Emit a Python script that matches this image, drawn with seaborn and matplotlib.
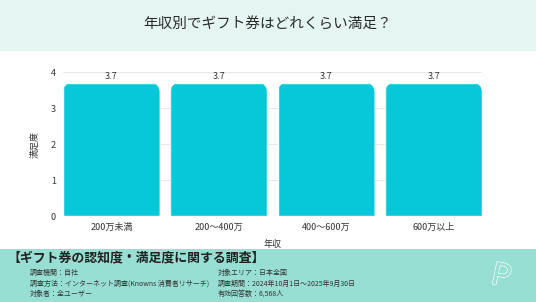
import matplotlib
matplotlib.use("Agg")
import matplotlib.pyplot as plt
import seaborn as sns
import pandas as pd
from matplotlib.patches import FancyBboxPatch, Rectangle
from matplotlib.transforms import IdentityTransform
import matplotlib.patheffects as pe

categories = ["200万未満", "200〜400万", "400〜600万", "600万以上"]
values = [3.7, 3.7, 3.7, 3.7]
value_labels = ["3.7", "3.7", "3.7", "3.7"]
yticks = [0, 1, 2, 3, 4]

sns.set_theme(style="white")
plt.rcParams['font.family'] = ['Noto Sans CJK JP', 'DejaVu Sans']

W, H = 536, 302
fig = plt.figure(figsize=(W / 100, H / 100), dpi=100)
fig.patch.set_facecolor("white")

# header and footer bands
fig.add_artist(Rectangle((0, 1 - 51 / H), 1, 51 / H, transform=fig.transFigure,
                         facecolor="#E4F5F2", edgecolor="none", zorder=0))
fig.add_artist(Rectangle((0, 0), 1, 53 / H, transform=fig.transFigure,
                         facecolor="#97DFD3", edgecolor="none", zorder=0))

fig.text(268 / W, 1 - 25 / H, "年収別でギフト券はどれくらい満足？", ha="center", va="center",
         fontsize=10.5, color="#2A2A2A")

ax = fig.add_axes([63 / W, 86 / H, 419 / W, 144 / H])
ax.set_facecolor("none")
df = pd.DataFrame({"年収": categories, "満足度": values})
sns.barplot(data=df, x="年収", y="満足度", ax=ax, color="#06C8D8", width=0.9,
            saturation=1, errorbar=None, zorder=3)
ax.set_xlim(-0.45, 3.45)
ax.set_ylim(0, 4)
ax.set_yticks(yticks)
ax.set_yticklabels([str(t) for t in yticks])
ax.yaxis.grid(True, color="#E8E8E8", linewidth=0.8, zorder=0)
ax.set_axisbelow(True)
for s in ax.spines.values():
    s.set_visible(False)
ax.tick_params(axis="both", length=0, labelsize=6.5, colors="#333333", pad=5)
ax.set_xlabel("年収", fontsize=6.5, color="#333333")
ax.set_ylabel("満足度", fontsize=6.5, color="#333333")
ax.xaxis.set_label_coords(0.5, -0.165)
ax.yaxis.set_label_coords(-0.055, 0.5)

for p, lab in zip(ax.patches, value_labels):
    ax.text(p.get_x() + p.get_width() / 2, p.get_height() + 0.05, lab,
            ha="center", va="bottom", fontsize=6.5, color="#333333")

# rounded top corners via clip path in display coords
fig.canvas.draw()
for p in ax.patches:
    bb = p.get_window_extent()
    r = 10
    clip = FancyBboxPatch((bb.x0, bb.y0 - 30), bb.width, bb.height + 30,
                          boxstyle=f"round,pad=0,rounding_size={r}",
                          transform=IdentityTransform(), facecolor="none", edgecolor="none")
    p.set_clip_path(clip)

# footer texts
fig.text(7 / W, 1 - 257 / H, "【ギフト券の認知度・満足度に関する調査】", ha="left", va="center",
         fontsize=9.3, fontweight="bold", color="#222222")
col1 = ["調査機関：自社", "調査方法：インターネット調査(Knowns 消費者リサーチ)", "対象者：全ユーザー"]
col2 = ["対象エリア：日本全国", "調査期間：2024年10月1日〜2025年9月30日", "有効回答数：6,568人"]
ys = [273, 284, 294]
for t, y in zip(col1, ys):
    fig.text(30 / W, 1 - y / H, t, ha="left", va="center", fontsize=5.0, color="#333333")
for t, y in zip(col2, ys):
    fig.text(218 / W, 1 - y / H, t, ha="left", va="center", fontsize=5.0, color="#333333")

logo = fig.text(501 / W, 1 - 277 / H, "P", ha="center", va="center", fontsize=22,
                color="#97DFD3", rotation=-12)
logo.set_path_effects([pe.withStroke(linewidth=1.2, foreground="white"), pe.Normal()])

fig.savefig("out.png", dpi=100)
